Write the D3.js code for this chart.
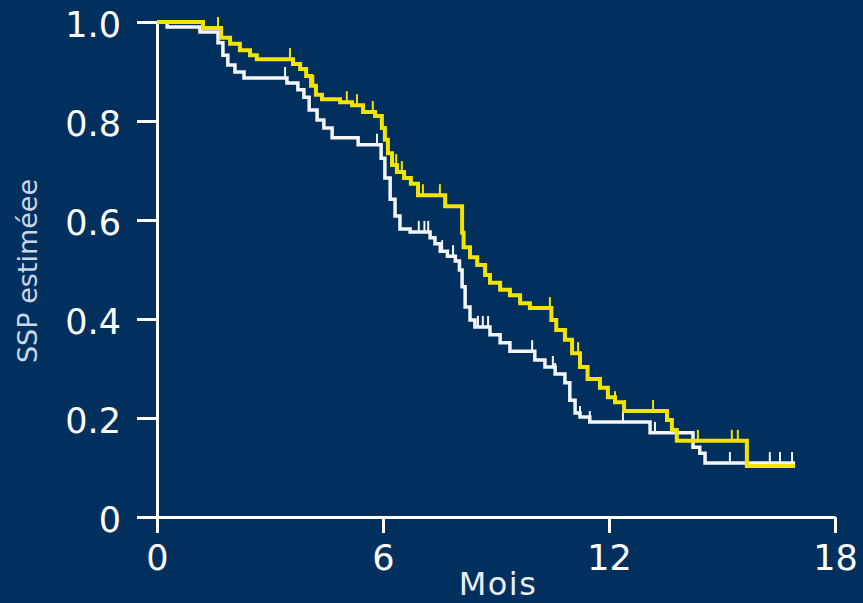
<!DOCTYPE html>
<html>
<head>
<meta charset="utf-8">
<script src="https://d3js.org/d3.v7.min.js"></script>
<style>
  html, body { margin: 0; padding: 0; background: #01305e; }
  svg { display: block; }
  .axis text { font-family: "DejaVu Sans", Verdana, sans-serif; font-size: 35px; fill: #ffffff; }
  .axis path, .axis line { stroke: #ffffff; stroke-width: 3px; }
</style>
</head>
<body>
<svg id="chart" width="863" height="603"></svg>
<script>
// Kaplan-Meier survival curves: [month, survival] after each event
const yellowSteps = [
  [0, 1.0], [1.22, 0.988], [1.70, 0.968], [1.94, 0.956], [2.20, 0.943], [2.47, 0.933],
  [2.65, 0.925], [3.61, 0.915], [3.80, 0.905], [3.96, 0.891], [4.09, 0.871], [4.22, 0.853],
  [4.38, 0.844], [4.86, 0.838], [5.18, 0.832], [5.47, 0.818], [5.79, 0.810], [5.97, 0.786],
  [6.05, 0.762], [6.13, 0.735], [6.24, 0.711], [6.37, 0.697], [6.56, 0.685], [6.74, 0.673],
  [6.93, 0.650], [7.65, 0.628], [8.10, 0.574], [8.14, 0.545], [8.31, 0.525], [8.50, 0.509],
  [8.71, 0.489], [8.84, 0.473], [9.11, 0.459], [9.37, 0.448], [9.64, 0.432], [9.90, 0.422],
  [10.47, 0.398], [10.60, 0.378], [10.83, 0.358], [11.02, 0.331], [11.23, 0.303], [11.43, 0.279],
  [11.76, 0.261], [11.97, 0.242], [12.16, 0.232], [12.40, 0.214], [13.54, 0.196], [13.67, 0.176],
  [13.80, 0.154], [15.66, 0.103], [16.94, 0.103]
];
const whiteSteps = [
  [0, 1.0], [0.27, 0.990], [1.14, 0.980], [1.62, 0.958], [1.75, 0.933], [1.88, 0.913],
  [2.07, 0.899], [2.31, 0.887], [3.45, 0.877], [3.74, 0.863], [3.90, 0.848], [4.04, 0.822],
  [4.25, 0.802], [4.43, 0.786], [4.65, 0.766], [5.34, 0.752], [5.95, 0.725], [6.05, 0.685],
  [6.19, 0.642], [6.32, 0.608], [6.45, 0.582], [6.72, 0.576], [7.25, 0.564], [7.38, 0.552],
  [7.52, 0.537], [7.71, 0.527], [7.92, 0.517], [8.03, 0.499], [8.10, 0.465], [8.18, 0.424],
  [8.31, 0.398], [8.44, 0.384], [8.84, 0.368], [9.11, 0.352], [9.37, 0.335], [10.03, 0.317],
  [10.30, 0.303], [10.57, 0.289], [10.83, 0.271], [10.96, 0.236], [11.10, 0.210], [11.23, 0.202],
  [11.49, 0.192], [13.09, 0.170], [14.23, 0.141], [14.41, 0.129], [14.55, 0.109], [16.94, 0.109]
];

// Censored observations (months)
const yellowCensored = [1.62, 3.53, 4.15, 5.04, 5.31, 5.73, 6.35, 6.50, 7.06, 7.51, 10.43,
  11.04, 11.18, 11.77, 12.16, 12.42, 13.17, 13.67, 14.36, 15.26, 15.42];
const whiteCensored = [3.40, 5.84, 6.95, 7.10, 7.20, 7.57, 7.86, 8.52, 8.65, 8.79, 9.96,
  10.51, 10.57, 11.23, 11.49, 12.37, 13.22, 15.21, 16.27, 16.54, 16.86];

const xTicks = [0, 6, 12, 18];
const yTicks = [0, 0.2, 0.4, 0.6, 0.8, 1.0];
const xTitle = "Mois";
const yTitle = "SSP estiméee";

const svg = d3.select("#chart");
const x = d3.scaleLinear().domain([0, 18]).range([157, 835]);
const y = d3.scaleLinear().domain([0, 1]).range([517, 22]);

// Axes
svg.append("g")
  .attr("class", "axis")
  .attr("transform", `translate(0,${y(0)})`)
  .call(d3.axisBottom(x).tickValues(xTicks).tickFormat(d3.format("d"))
    .tickSize(16).tickSizeOuter(0).tickPadding(12));

svg.append("g")
  .attr("class", "axis")
  .attr("transform", `translate(${x(0)},0)`)
  .call(d3.axisLeft(y).tickValues(yTicks).tickFormat(d => d === 0 ? "0" : d3.format(".1f")(d))
    .tickSize(20).tickSizeOuter(0).tickPadding(16))
  .call(g => g.selectAll("text").attr("dy", "0.41em"));

// Axis titles
svg.append("text")
  .attr("x", 498).attr("y", 595)
  .attr("text-anchor", "middle")
  .style("font-family", "'DejaVu Sans', Verdana, sans-serif")
  .style("font-size", "32px")
  .style("letter-spacing", "1.5px")
  .style("fill", "#e8eef6")
  .text(xTitle);

svg.append("text")
  .attr("transform", "translate(37,271) rotate(-90)")
  .attr("text-anchor", "middle")
  .style("font-family", "'DejaVu Sans', Verdana, sans-serif")
  .style("font-size", "27px")
  .style("fill", "#c9d6e6")
  .text(yTitle);

// Survival value in effect at a given month
function survivalAt(steps, t) {
  const i = d3.bisector(d => d[0]).right(steps, t) - 1;
  return steps[Math.max(0, i)][1];
}

const line = d3.line()
  .x(d => x(d[0]))
  .y(d => y(d[1]))
  .curve(d3.curveStepAfter);

function drawCurve(steps, censored, color, width) {
  const g = svg.append("g");
  g.append("path")
    .datum(steps)
    .attr("fill", "none")
    .attr("stroke", color)
    .attr("stroke-width", width)
    .attr("d", line);
  g.selectAll("line.censor")
    .data(censored)
    .join("line")
    .attr("class", "censor")
    .attr("x1", d => x(d)).attr("x2", d => x(d))
    .attr("y1", d => y(survivalAt(steps, d)) - 11)
    .attr("y2", d => y(survivalAt(steps, d)) + 1)
    .attr("stroke", color)
    .attr("stroke-width", 2);
}

drawCurve(whiteSteps, whiteCensored, "#f4f6fa", 3.5);
drawCurve(yellowSteps, yellowCensored, "#f2e300", 4);
</script>
</body>
</html>
